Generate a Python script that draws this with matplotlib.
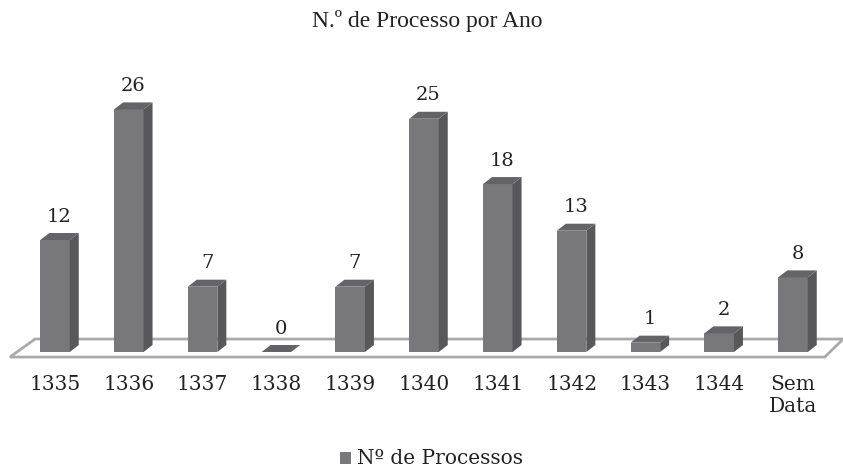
import matplotlib.pyplot as plt
from matplotlib.patches import Polygon, Rectangle

# data
anos = ['1335', '1336', '1337', '1338', '1339', '1340', '1341', '1342', '1343', '1344', 'Sem\nData']
processos = [12, 26, 7, 0, 7, 25, 18, 13, 1, 2, 8]

titulo = 'N.º de Processo por Ano'
legenda = 'Nº de Processos'

frente = '#78787b'
lado = '#58585a'
topo = '#646466'

largura = 0.40   # front face width (category units)
dx, dy = 0.122, 0.75   # depth offset

fig = plt.figure(figsize=(8.43, 4.69), dpi=100)
ax = fig.add_axes([0, 0, 1, 1])
ax.set_xlim(-0.745, -0.745 + 843 / 73.8)
ax.set_ylim(-12.54, -12.54 + 469 / 9.33)
ax.axis('off')

# floor
chao = Polygon([(-0.61, -0.54), (10.43, -0.54), (10.68, 1.39), (-0.27, 1.39)],
               closed=True, facecolor='white', edgecolor='#aaaaaa', linewidth=2, zorder=1)
ax.add_patch(chao)

x = list(range(len(anos)))
ax.bar(x, processos, width=largura, color=frente, edgecolor='none', zorder=3)
for xi, v in zip(x, processos):
    l = xi - largura / 2
    r = xi + largura / 2
    ax.add_patch(Polygon([(r, 0), (r + dx, dy), (r + dx, v + dy), (r, v)],
                         closed=True, facecolor=lado, edgecolor='none', zorder=3))
    ax.add_patch(Polygon([(l, v), (r, v), (r + dx, v + dy), (l + dx, v + dy)],
                         closed=True, facecolor=topo, edgecolor='none', zorder=3))
    ax.text(xi + dx / 2, v + dy + 0.8, str(v), ha='center', va='bottom',
            fontsize=14, family='DejaVu Serif', color='#222222')
    ax.text(xi, -2.5, anos[xi], ha='center', va='top', fontsize=14.5,
            family='DejaVu Serif', color='#222222', linespacing=1.15)

fig.text(0.507, 1 - 21 / 469, titulo, ha='center', va='center', fontsize=17,
         family='Liberation Serif', color='#222222')

# legend
fig.patches.append(Rectangle((340 / 843, 1 - 464 / 469), 11 / 843, 12 / 469,
                             transform=fig.transFigure, facecolor=frente, edgecolor='none'))
fig.text(357 / 843, 1 - 458 / 469, legenda, ha='left', va='center', fontsize=14.5,
         family='DejaVu Serif', color='#222222')

fig.savefig('out.png', dpi=100)
